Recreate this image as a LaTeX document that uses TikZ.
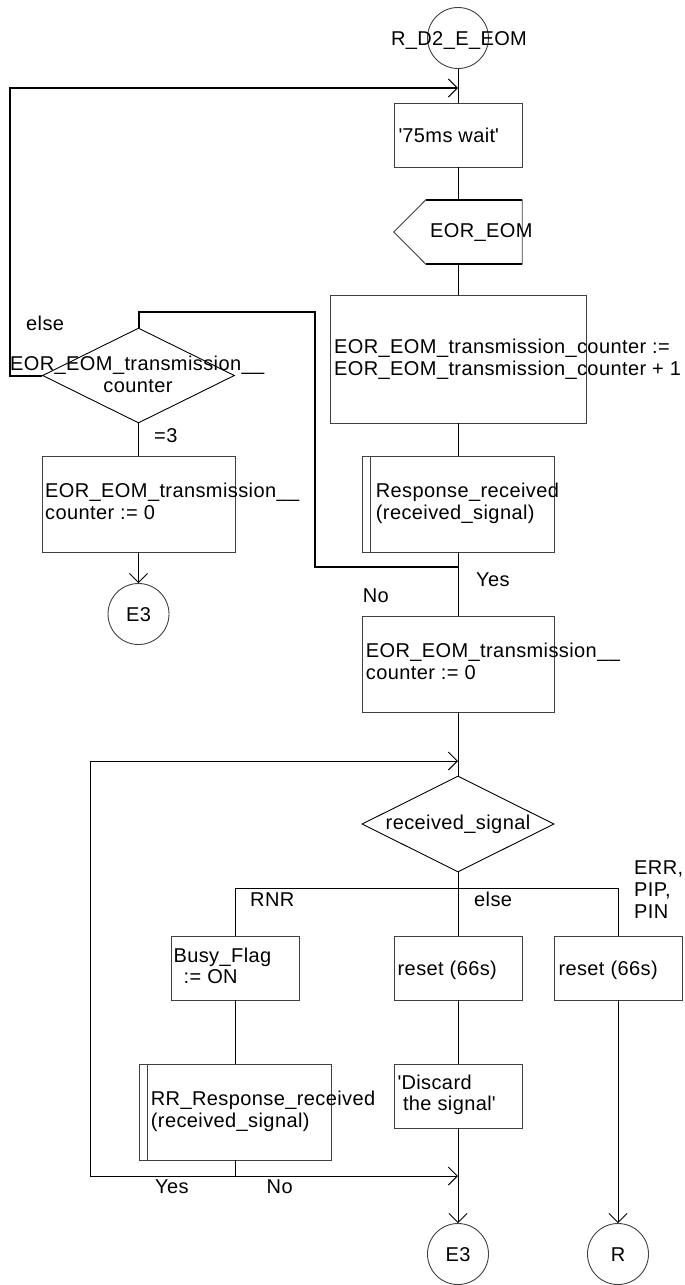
\documentclass[tikz,border=0pt]{standalone}
\usepackage{fontspec}
\setmainfont{Liberation Sans}[LetterSpace=2]
\usetikzlibrary{shapes.geometric,arrows.meta}
\begin{document}
\begin{tikzpicture}[x=1pt,y=-1pt,
  box/.style={draw=black!75, line width=0.9pt, rectangle, inner sep=0pt},
  circ/.style={draw=black!75, line width=0.9pt, circle, inner sep=0pt, minimum size=61pt},
  dia/.style={draw=black, line width=0.9pt, diamond, inner sep=0pt, minimum width=192pt, minimum height=95pt},
  txt/.style={inner sep=0pt, anchor=base west, font=\fontsize{20}{22}\selectfont},
  ctxt/.style={inner sep=0pt, anchor=base, font=\fontsize{20}{22}\selectfont},
  conn/.style={draw=black, line width=0.9pt},
  thk/.style={draw=black, line width=2pt},
  arr/.style={-{Straight Barb[length=9pt,width=18pt,line width=0.9pt]}}]
\useasboundingbox (0,0) rectangle (685,1285);

% ---------- shapes ----------
\node[circ] (start) at (458,38) {};
\node[box, minimum width=128pt, minimum height=64pt] (wait) at (458,135) {};
\node[inner sep=0pt, minimum width=128pt, minimum height=64pt] (inp) at (458,232) {};
\node[box, minimum width=256pt, minimum height=128pt] (big) at (458,359) {};
\node[box, minimum width=192pt, minimum height=96pt] (resp) at (458,504) {};
\node[dia] (d1) at (138.5,375.5) {};
\node[box, minimum width=193pt, minimum height=96pt] (box1) at (138.5,504) {};
\node[circ] (e3a) at (138.5,614) {};
\node[box, minimum width=192pt, minimum height=96pt] (box2) at (458,664) {};
\node[dia, minimum height=96pt] (d2) at (458,824) {};
\node[box, minimum width=128pt, minimum height=64pt] (busy) at (235,968) {};
\node[box, minimum width=128pt, minimum height=64pt] (reset1) at (458,968) {};
\node[box, minimum width=128pt, minimum height=64pt] (reset2) at (618,968) {};
\node[box, minimum width=192pt, minimum height=96pt] (rr) at (235,1112) {};
\node[box, minimum width=128pt, minimum height=64pt] (disc) at (458,1096) {};
\node[circ] (e3b) at (458,1254) {};
\node[circ] (rc) at (618,1254) {};

% input symbol
\draw[black!75, line width=0.9pt] ([xshift=32pt]inp.north west) -- (inp.north east) -- (inp.south east)
  -- ([xshift=32pt]inp.south west) -- (inp.west) -- cycle;
\draw[thk] ([xshift=32pt]inp.north west) -- (inp.north east);
\draw[thk] ([xshift=32pt]inp.south west) -- (inp.south east);

% procedure call inner bars
\draw[black!75, line width=0.9pt] ([xshift=9.3pt]resp.north west) -- ([xshift=9.3pt]resp.south west);
\draw[black!75, line width=0.9pt] ([xshift=9.2pt]rr.north west) -- ([xshift=9.2pt]rr.south west);

% ---------- coordinates ----------
\coordinate (j1) at (458,88);
\coordinate (c1) at (10,88);
\coordinate (c2) at (10,375.5);
\coordinate (j2) at (458,567);
\coordinate (c3) at (314.5,567);
\coordinate (c4) at (314.5,312);
\coordinate (c5) at (138.5,312);
\coordinate (j3) at (458,761);
\coordinate (c6) at (90,761);
\coordinate (c7) at (90,1176);
\coordinate (c8) at (235,1176);
\coordinate (j4) at (458,1176);
\coordinate (b0) at (458,888);
\coordinate (bl) at (235,888);
\coordinate (br) at (618,888);

% ---------- connectors ----------
\draw[conn] (start.south) -- (wait.north);
\draw[conn] (wait.south) -- (inp.north);
\draw[conn] (inp.south) -- (big.north);
\draw[conn] (big.south) -- (resp.north);
\draw[conn] (resp.south) -- (box2.north);
\draw[thk, arr] (d1.west) -- (c2) -- (c1) -- (j1);
\draw[thk] (j2) -- (c3) -- (c4) -- (c5) -- (d1.north);
\draw[conn] (d1.south) -- (box1.north);
\draw[conn, arr] (box1.south) -- (e3a.north);
\draw[conn] (box2.south) -- (d2.north);
\draw[conn] (d2.south) -- (b0);
\draw[conn] (bl) -- (br);
\draw[conn] (bl) -- (busy.north);
\draw[conn] (b0) -- (reset1.north);
\draw[conn] (br) -- (reset2.north);
\draw[conn] (busy.south) -- (rr.north);
\draw[conn] (reset1.south) -- (disc.north);
\draw[conn, arr] (disc.south) -- (e3b.north);
\draw[conn, arr] (reset2.south) -- (rc.north);
\draw[conn] (rr.south) -- (c8);
\draw[conn, arr] (c8) -- (c7) -- (c6) -- (j3);
\draw[conn, arr] (c8) -- (j4);

% ---------- texts ----------
\node[ctxt] (tstart) at (459,45) {R\_D2\_E\_EOM};
\node[txt] (twait) at (398.4,142) {\textquotesingle75ms wait\textquotesingle};
\node[txt] (tinp) at (430,237) {EOR\_EOM};
\node[txt] (tbig1) at (334,353) {EOR\_EOM\_transmission\_counter :=};
\node[txt] (tbig2) at (334,375) {EOR\_EOM\_transmission\_counter + 1};
\node[txt] (tresp1) at (375.7,497) {Response\_received};
\node[txt] (tresp2) at (375.7,519) {(received\_signal)};
\node[txt] (telse1) at (26,330) {else};
\node[txt] (td1a) at (10,370) {EOR\_EOM\_transmission\_\_};
\node[ctxt] (td1b) at (138,392) {counter};
\node[txt] (teq3) at (154,442) {=3};
\node[txt] (tb1a) at (45,497) {EOR\_EOM\_transmission\_\_};
\node[txt] (tb1b) at (45,519) {counter := 0};
\node[txt] (tyes1) at (476,586) {Yes};
\node[txt] (tno1) at (362.6,602) {No};
\node[ctxt] (te3a) at (138.5,621) {E3};
\node[txt] (tb2a) at (365.7,657) {EOR\_EOM\_transmission\_\_};
\node[txt] (tb2b) at (365.7,679) {counter := 0};
\node[ctxt] (td2) at (458,829) {received\_signal};
\node[txt] (trnr) at (250,906) {RNR};
\node[txt] (telse2) at (474,906) {else};
\node[txt] (terr) at (634,874) {ERR,};
\node[txt] (tpip) at (634,896) {PIP,};
\node[txt] (tpin) at (634,918) {PIN};
\node[txt] (tbusy1) at (173.4,962) {Busy\_Flag};
\node[txt] (tbusy2) at (183.5,983) {:= ON};
\node[txt] (treset1) at (397.5,975) {reset (66s)};
\node[txt] (treset2) at (558.3,975) {reset (66s)};
\node[txt] (trr1) at (150.7,1105) {RR\_Response\_received};
\node[txt] (trr2) at (150.7,1127) {(received\_signal)};
\node[txt] (tdisc1) at (397.5,1089) {\textquotesingle Discard};
\node[txt] (tdisc2) at (402.8,1110) {the signal\textquotesingle};
\node[txt] (tyes2) at (155,1193) {Yes};
\node[txt] (tno2) at (266.5,1193) {No};
\node[ctxt] (te3b) at (458,1261) {E3};
\node[ctxt] (trc) at (618,1261) {R};
\end{tikzpicture}
\end{document}
